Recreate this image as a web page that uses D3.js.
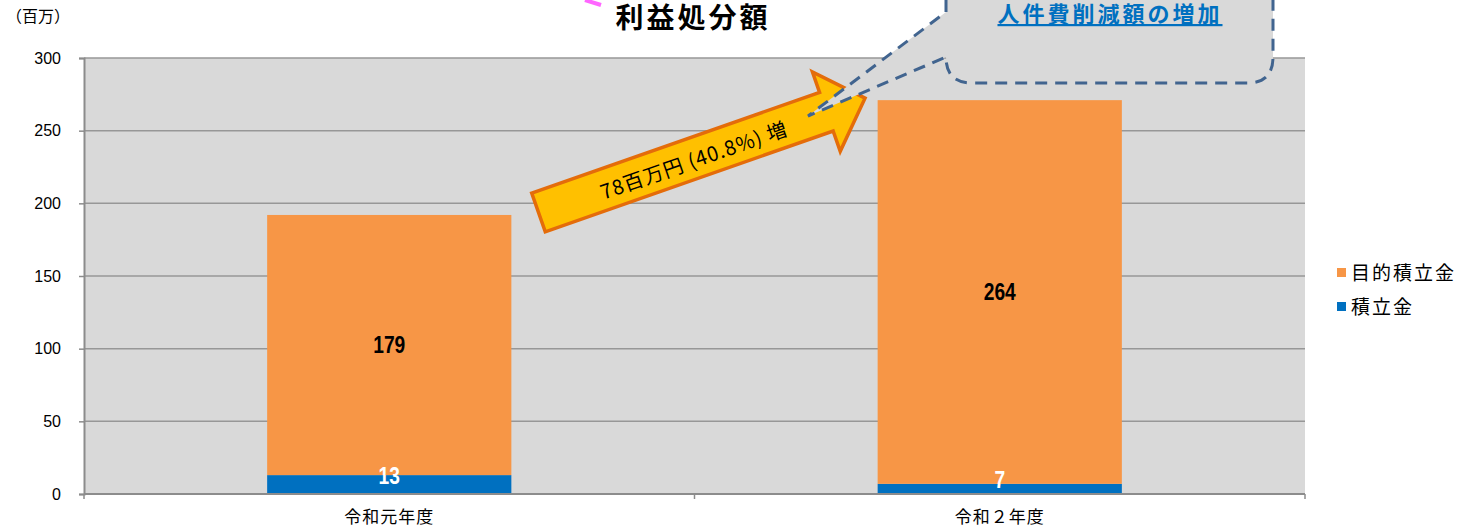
<!DOCTYPE html>
<html>
<head>
<meta charset="utf-8">
<script src="https://cdn.jsdelivr.net/npm/d3@7"></script>
<style>
  body { margin: 0; background: #fff; }
  svg { display: block; }
</style>
</head>
<body>
<div id="chart"></div>
<script>
// data
const categories = ['令和元年度', '令和２年度'];
const seriesNames = ['積立金', '目的積立金'];
const reserve = [13, 7];
const purposeReserve = [179, 264];
const yTicks = [0, 50, 100, 150, 200, 250, 300];
const colors = ['#0070c0', '#f79646'];

const W = 1478, H = 528;
const plot = { left: 84, right: 1305, top: 58, bottom: 494 };
const jp = '"Noto Sans CJK JP", "Noto Sans", sans-serif';
const latin = '"Liberation Sans", Arial, sans-serif';

const rows = categories.map((c, i) => ({ cat: c, '積立金': reserve[i], '目的積立金': purposeReserve[i] }));
const stacked = d3.stack().keys(seriesNames)(rows);

const svg = d3.select('#chart').append('svg')
  .attr('width', W)
  .attr('height', H);

const x = d3.scaleBand()
  .domain(categories)
  .range([plot.left, plot.right])
  .paddingInner(0.6)
  .paddingOuter(0.3);

const y = d3.scaleLinear()
  .domain([0, 300])
  .range([plot.bottom, plot.top]);

// plot background
svg.append('rect')
  .attr('x', plot.left).attr('y', plot.top)
  .attr('width', plot.right - plot.left)
  .attr('height', plot.bottom - plot.top)
  .attr('fill', '#d9d9d9');

// gridlines
svg.append('g')
  .selectAll('line')
  .data(yTicks.filter(d => d > 0))
  .join('line')
  .attr('x1', plot.left).attr('x2', plot.right)
  .attr('y1', d => y(d)).attr('y2', d => y(d))
  .attr('stroke', '#979797')
  .attr('stroke-width', 1.5);

// y axis
const yAxis = svg.append('g')
  .attr('transform', `translate(${plot.left},0)`)
  .call(d3.axisLeft(y).tickValues(yTicks).tickSize(5).tickPadding(18));
yAxis.select('.domain').attr('stroke', '#8c8c8c').attr('stroke-width', 2);
yAxis.selectAll('.tick line').attr('stroke', '#8c8c8c').attr('stroke-width', 1.5);
yAxis.selectAll('.tick text')
  .attr('font-family', latin)
  .attr('font-size', 16)
  .attr('fill', '#000');

// bars
svg.append('g')
  .selectAll('g')
  .data(stacked)
  .join('g')
  .attr('fill', (d, i) => colors[i])
  .selectAll('rect')
  .data(d => d)
  .join('rect')
  .attr('x', d => x(d.data.cat))
  .attr('y', d => y(d[1]))
  .attr('width', x.bandwidth())
  .attr('height', d => y(d[0]) - y(d[1]));

// x axis
const xBound = d3.scaleLinear().domain([0, categories.length]).range([plot.left, plot.right]);
svg.append('line')
  .attr('x1', plot.left).attr('x2', plot.right)
  .attr('y1', plot.bottom).attr('y2', plot.bottom)
  .attr('stroke', '#8c8c8c').attr('stroke-width', 2);
svg.append('g')
  .selectAll('line')
  .data(d3.range(categories.length + 1))
  .join('line')
  .attr('x1', d => xBound(d)).attr('x2', d => xBound(d))
  .attr('y1', plot.bottom).attr('y2', plot.bottom + 5)
  .attr('stroke', '#8c8c8c').attr('stroke-width', 1.5);
svg.append('g')
  .selectAll('text')
  .data(categories)
  .join('text')
  .attr('x', d => x(d) + x.bandwidth() / 2)
  .attr('y', 523)
  .attr('text-anchor', 'middle')
  .attr('font-family', jp)
  .attr('font-size', 17)
  .attr('letter-spacing', 1)
  .text(d => d);

// data labels (condensed bold, squeezed horizontally)
stacked.forEach((s, si) => {
  svg.append('g')
    .selectAll('text')
    .data(s)
    .join('text')
    .attr('transform', d => {
      const cx = x(d.data.cat) + x.bandwidth() / 2;
      const cy = y((d[0] + d[1]) / 2) - (si === 0 ? 9 : 0);
      return `translate(${cx},${cy}) scale(0.8,1)`;
    })
    .attr('text-anchor', 'middle')
    .attr('dominant-baseline', 'central')
    .attr('font-family', latin)
    .attr('font-weight', 'bold')
    .attr('font-size', 24)
    .attr('fill', si === 0 ? '#fff' : '#000')
    .text(d => d[1] - d[0]);
});

// unit label
svg.append('text')
  .attr('x', 6).attr('y', 22)
  .attr('font-family', jp)
  .attr('font-size', 16)
  .text('（百万）');

// title
svg.append('line')
  .attr('x1', 585).attr('y1', 0).attr('x2', 601).attr('y2', 5)
  .attr('stroke', '#ff66ff').attr('stroke-width', 4);
svg.append('text')
  .attr('x', 693).attr('y', 28)
  .attr('text-anchor', 'middle')
  .attr('font-family', jp)
  .attr('font-weight', 'bold')
  .attr('font-size', 28)
  .attr('letter-spacing', 3)
  .text('利益処分額');

// legend
const legend = svg.append('g');
const legendItems = seriesNames.slice().reverse();
legend.selectAll('rect')
  .data(legendItems)
  .join('rect')
  .attr('x', 1337)
  .attr('y', (d, i) => 268 + i * 34)
  .attr('width', 9).attr('height', 9)
  .attr('fill', d => colors[seriesNames.indexOf(d)]);
legend.selectAll('text')
  .data(legendItems)
  .join('text')
  .attr('x', 1351)
  .attr('y', (d, i) => 280 + i * 34)
  .attr('font-family', jp)
  .attr('font-size', 19)
  .attr('letter-spacing', 2)
  .text(d => d);

// increase arrow
const arrowLen = 346, shaftHalf = 20.5, headHalf = 42, headLen = 41;
const arrowPts = [
  [0, -shaftHalf], [arrowLen - headLen, -shaftHalf], [arrowLen - headLen, -headHalf],
  [arrowLen, 0], [arrowLen - headLen, headHalf], [arrowLen - headLen, shaftHalf], [0, shaftHalf]
];
const arrow = svg.append('g')
  .attr('transform', 'translate(538.5,212.5) rotate(-19.3)');
arrow.append('path')
  .attr('d', d3.line()(arrowPts) + 'Z')
  .attr('fill', '#ffc000')
  .attr('stroke', '#e46c0a')
  .attr('stroke-width', 3.5)
  .attr('stroke-linejoin', 'miter');
arrow.append('text')
  .attr('x', 164).attr('y', 1)
  .attr('text-anchor', 'middle')
  .attr('dominant-baseline', 'central')
  .attr('font-family', jp)
  .attr('font-size', 20)
  .attr('letter-spacing', 1)
  .text('78百万円 (40.8%) 増');

// callout
const callout = d3.path();
callout.moveTo(946, -40);
callout.lineTo(946, 12);
callout.lineTo(808, 116);
callout.lineTo(946, 57);
callout.quadraticCurveTo(946, 83, 972, 83);
callout.lineTo(1247, 83);
callout.quadraticCurveTo(1273, 83, 1273, 57);
callout.lineTo(1273, -40);
svg.append('path')
  .attr('d', callout.toString())
  .attr('fill', '#d9d9d9')
  .attr('stroke', '#41648f')
  .attr('stroke-width', 3)
  .attr('stroke-dasharray', '12,8');
svg.append('text')
  .attr('x', 1110).attr('y', 22)
  .attr('text-anchor', 'middle')
  .attr('font-family', jp)
  .attr('font-weight', 'bold')
  .attr('font-size', 22)
  .attr('letter-spacing', 3)
  .attr('fill', '#0070c0')
  .attr('text-decoration', 'underline')
  .text('人件費削減額の増加');
</script>
</body>
</html>
